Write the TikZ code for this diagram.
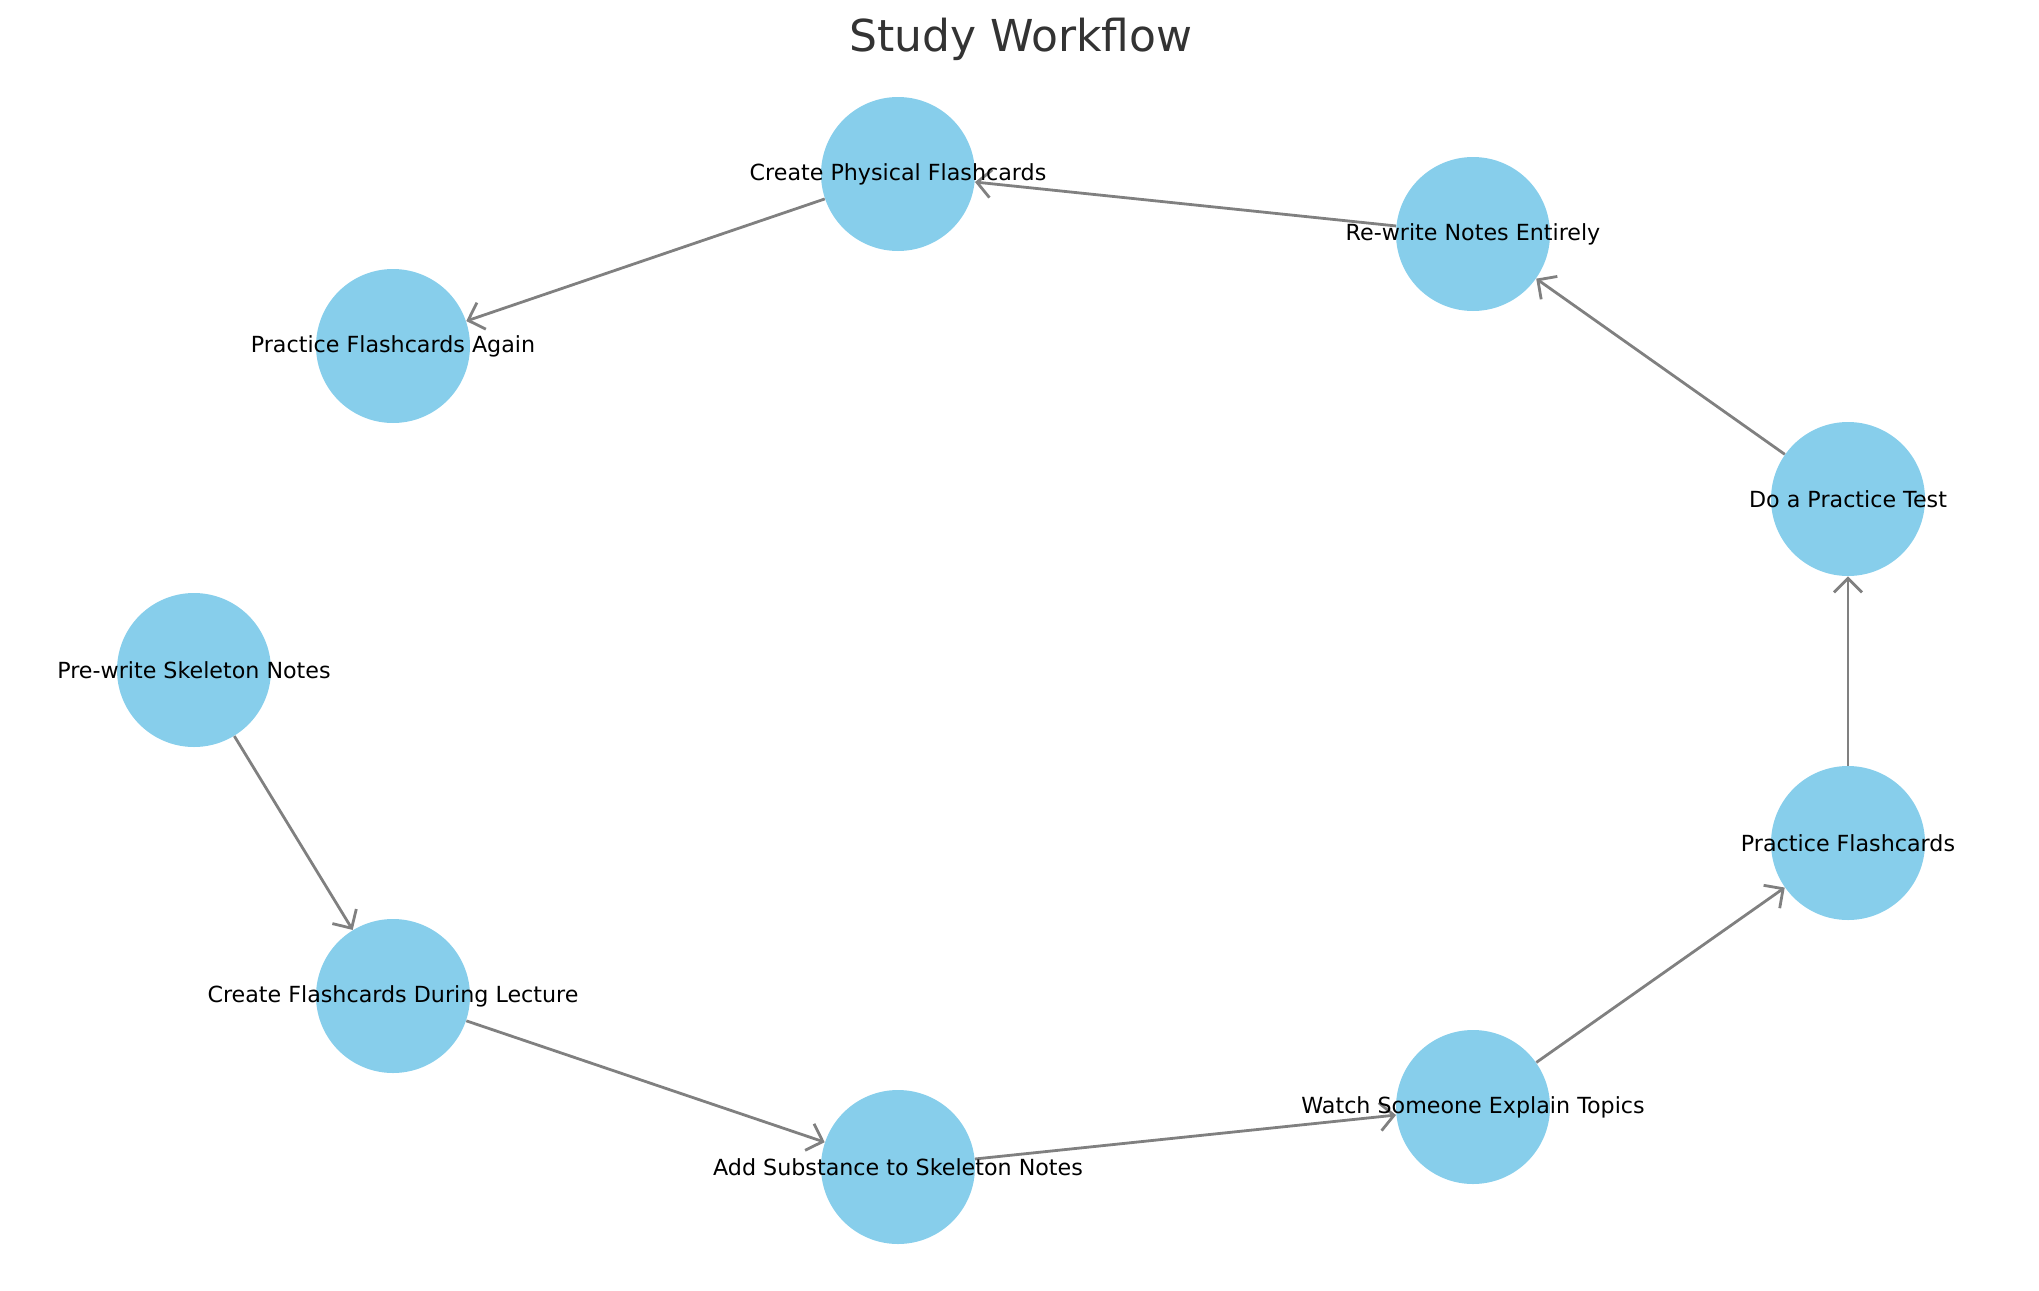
\documentclass[tikz,border=0pt]{standalone}
\usepackage{fontspec}
\setmainfont{DejaVu Sans}
\usetikzlibrary{arrows.meta}
\definecolor{sky}{HTML}{87CEEB}
\definecolor{ttl}{HTML}{333333}
\tikzset{
  circ/.style={circle, fill=sky, draw=none, minimum size=77pt, inner sep=0pt},
  lbl/.style={font=\fontsize{11.1}{13}\selectfont, text=black, inner sep=0pt},
  edge/.style={draw=gray, line width=1.4pt, -{Straight Barb[length=7pt,width=14pt,line width=1.4pt]}}
}
\begin{document}
\begin{tikzpicture}[x=0.5pt,y=-0.5pt]
\useasboundingbox (0,0) rectangle (2039,1290);
\node[font=\fontsize{22}{26}\selectfont, text=ttl] (title) at (1021,39) {Study Workflow};
\node[circ] (cpf) at (898,174) {};
\node[circ] (rne) at (1473,234) {};
\node[circ] (pfa) at (393,346) {};
\node[circ] (dpt) at (1848,499) {};
\node[circ] (psn) at (194,670) {};
\node[circ] (pf)  at (1848,843) {};
\node[circ] (cfl) at (393,996) {};
\node[circ] (wse) at (1473,1107) {};
\node[circ] (ass) at (898,1167) {};
\draw[edge] (psn) -- (cfl);
\draw[edge] (cfl) -- (ass);
\draw[edge] (ass) -- (wse);
\draw[edge] (wse) -- (pf);
\draw[edge] (pf) -- (dpt);
\draw[edge] (dpt) -- (rne);
\draw[edge] (rne) -- (cpf);
\draw[edge] (cpf) -- (pfa);
\node[lbl] (tcpf) at (cpf) {Create Physical Flashcards};
\node[lbl] (trne) at (rne) {Re-write Notes Entirely};
\node[lbl] (tpfa) at (pfa) {Practice Flashcards Again};
\node[lbl] (tdpt) at (dpt) {Do a Practice Test};
\node[lbl] (tpsn) at (psn) {Pre-write Skeleton Notes};
\node[lbl] (tpf)  at (pf)  {Practice Flashcards};
\node[lbl] (tcfl) at (cfl) {Create Flashcards During Lecture};
\node[lbl] (twse) at (wse) {Watch Someone Explain Topics};
\node[lbl] (tass) at (ass) {Add Substance to Skeleton Notes};
\end{tikzpicture}
\end{document}
